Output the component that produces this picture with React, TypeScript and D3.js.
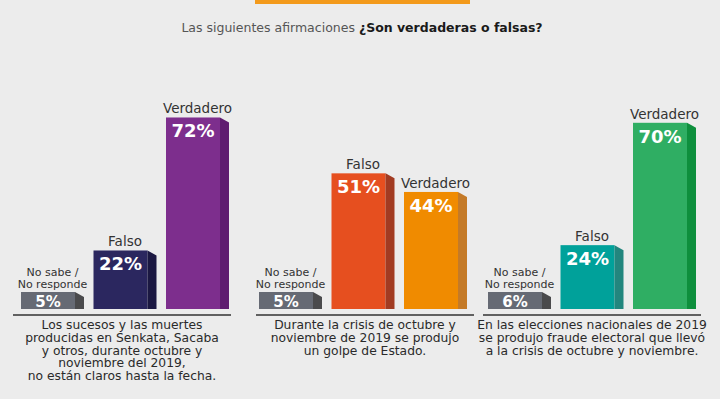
import React from 'react';
import * as d3 from 'd3';

// answer categories, same order in every panel
const categories = ['No sabe / No responde', 'Falso', 'Verdadero'];

// percentages per question
const q1Values = [5, 22, 72];
const q2Values = [5, 51, 44];
const q3Values = [6, 24, 70];

// question texts, already broken into lines
const q1Text = [
  'Los sucesos y las muertes',
  'producidas en Senkata, Sacaba',
  'y otros, durante octubre y',
  'noviembre del 2019,',
  'no están claros hasta la fecha.',
];
const q2Text = [
  'Durante la crisis de octubre y',
  'noviembre de 2019 se produjo',
  'un golpe de Estado.',
];
const q3Text = [
  'En las elecciones nacionales de 2019',
  'se produjo fraude electoral que llevó',
  'a la crisis de octubre y noviembre.',
];

const titleLight = 'Las siguientes afirmaciones ';
const titleBold = '¿Son verdaderas o falsas?';

// front / side colours
const q1Colors = [['#666a74', '#4a4a4c'], ['#2b275f', '#1b1842'], ['#7d2e8d', '#5f1d70']];
const q2Colors = [['#666a74', '#4a4a4c'], ['#e64f1f', '#a13b22'], ['#f08b00', '#c47a28']];
const q3Colors = [['#666a74', '#4a4a4c'], ['#00a19a', '#22867e'], ['#2fae63', '#0e8f3d']];

const panels = [
  { values: q1Values, text: q1Text, colors: q1Colors },
  { values: q2Values, text: q2Text, colors: q2Colors },
  { values: q3Values, text: q3Text, colors: q3Colors },
];

const W = 720;
const H = 399;
const lineX = [13, 256, 483];
const barX = [21, 259, 488];
const panelW = 218;
const baseY = 309;
const lineY = 315;
const sideW = 9;
const minH = 17;
const font = '"DejaVu Sans", sans-serif';

const y = d3.scaleLinear().domain([0, 100]).range([baseY, 43]);
const x = d3.scaleBand<string>().domain(categories).range([0, 208]).paddingInner(0.131).paddingOuter(0);

function Panel({ p, bx, lx }: { p: typeof panels[0]; bx: number; lx: number }) {
  const bw = x.bandwidth();
  const fw = bw - sideW;
  const cx = lx + panelW / 2;
  return (
    <g>
      {p.values.map((v, i) => {
        const cat = categories[i];
        const x0 = bx + (x(cat) as number);
        const top = Math.min(y(v), baseY - minH);
        const short = baseY - top < 30;
        const fs = short ? 15 : 18;
        const valY = Math.min(top + 20, baseY - 2);
        const labelLines = cat.includes('/') ? ['No sabe /', 'No responde'] : [cat];
        return (
          <g key={cat}>
            <rect x={x0} y={top} width={fw} height={baseY - top} fill={p.colors[i][0]} />
            <polygon
              points={`${x0 + fw},${top} ${x0 + bw},${top + 5} ${x0 + bw},${baseY} ${x0 + fw},${baseY}`}
              fill={p.colors[i][1]}
            />
            <text
              x={x0 + fw / 2}
              y={valY}
              textAnchor="middle"
              fill="#fff"
              fontFamily={font}
              fontWeight="bold"
              fontSize={fs}
            >
              {v}%
            </text>
            {labelLines.map((l, j) => (
              <text
                key={l}
                x={x0 + bw / 2}
                y={top - 4 - (labelLines.length - 1 - j) * 12}
                textAnchor="middle"
                fill="#333"
                fontFamily={font}
                fontSize={labelLines.length > 1 ? 11 : 13.5}
              >
                {l}
              </text>
            ))}
          </g>
        );
      })}
      <line x1={lx} x2={lx + panelW} y1={lineY} y2={lineY} stroke="#333" strokeWidth={1.5} />
      {p.text.map((t, j) => (
        <text
          key={t}
          x={cx}
          y={329 + j * 12.8}
          textAnchor="middle"
          fill="#2a2a2a"
          fontFamily={font}
          fontSize={12.3}
        >
          {t}
        </text>
      ))}
    </g>
  );
}

export default function App() {
  return (
    <svg
      width={W}
      height={H}
      style={{ position: 'absolute', left: 0, top: 0, display: 'block' }}
    >
      <rect width={W} height={H} fill="#ececec" />
      <rect x={255} y={0} width={215} height={4} fill="#f39a1b" />
      <text x={W / 2 + 2} y={32} textAnchor="middle" fontFamily={font} fontSize={12.5}>
        <tspan fill="#555">{titleLight}</tspan>
        <tspan fill="#1a1a1a" fontWeight="bold">{titleBold}</tspan>
      </text>
      {panels.map((p, i) => (
        <Panel key={i} p={p} bx={barX[i]} lx={lineX[i]} />
      ))}
    </svg>
  );
}
